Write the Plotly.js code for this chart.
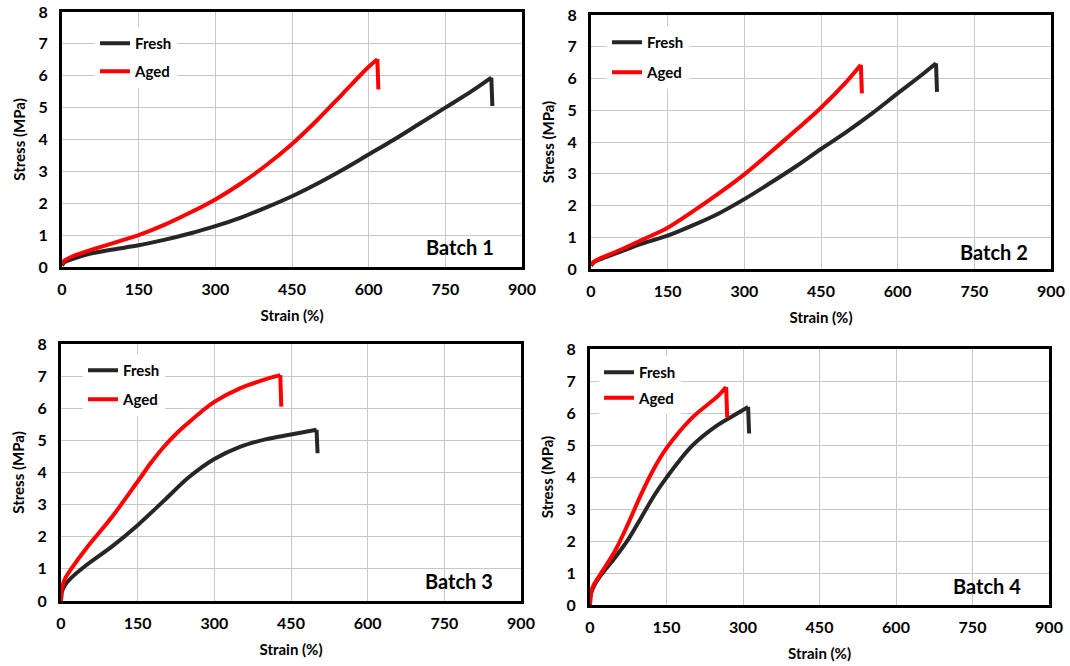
<!DOCTYPE html>
<html>
<head>
<meta charset="utf-8">
<script src="https://cdn.plot.ly/plotly-3.0.1.min.js"></script>
<style>html,body{margin:0;padding:0;background:#fff}#chart{width:1070px;height:666px}</style>
</head>
<body>
<div id="chart"></div>
<script>
// ---- data (strain %, stress MPa); last point of each series = stress after break ----
const seriesNames = ["Fresh", "Aged"];
const batchLabels = ["Batch 1", "Batch 2", "Batch 3", "Batch 4"];
const xTicks = [0, 150, 300, 450, 600, 750, 900];
const yTicks = [0, 1, 2, 3, 4, 5, 6, 7, 8];

const b1FreshX = [0, 5, 20, 50, 100, 150, 200, 250, 300, 350, 400, 450, 500, 550, 600, 650, 700, 750, 800, 840, 842];
const b1FreshY = [0.05, 0.15, 0.25, 0.40, 0.55, 0.68, 0.85, 1.05, 1.28, 1.55, 1.87, 2.22, 2.62, 3.06, 3.53, 4.0, 4.5, 5.0, 5.5, 5.94, 5.05];
const b1AgedX = [0, 5, 20, 50, 100, 150, 200, 250, 300, 350, 400, 450, 500, 550, 600, 617, 619];
const b1AgedY = [0.1, 0.2, 0.33, 0.5, 0.75, 1.0, 1.32, 1.7, 2.12, 2.62, 3.2, 3.86, 4.62, 5.45, 6.28, 6.52, 5.57];

const b2FreshX = [0, 5, 20, 50, 100, 150, 200, 250, 300, 350, 400, 450, 500, 550, 600, 650, 675, 677];
const b2FreshY = [0.1, 0.2, 0.32, 0.5, 0.8, 1.05, 1.38, 1.75, 2.2, 2.7, 3.22, 3.78, 4.32, 4.9, 5.53, 6.15, 6.48, 5.58];
const b2AgedX = [0, 5, 20, 50, 100, 150, 200, 250, 300, 350, 400, 450, 500, 528, 530];
const b2AgedY = [0.12, 0.22, 0.35, 0.55, 0.92, 1.3, 1.82, 2.38, 2.98, 3.66, 4.36, 5.08, 5.9, 6.43, 5.53];

const b3FreshX = [0, 2, 8, 20, 50, 100, 150, 200, 250, 300, 350, 400, 450, 500, 502];
const b3FreshY = [0, 0.3, 0.5, 0.72, 1.12, 1.7, 2.36, 3.1, 3.85, 4.42, 4.8, 5.03, 5.18, 5.33, 4.6];
const b3AgedX = [0, 2, 8, 20, 50, 100, 150, 175, 200, 225, 250, 275, 300, 350, 400, 429, 431];
const b3AgedY = [0, 0.4, 0.7, 1.0, 1.65, 2.62, 3.72, 4.28, 4.78, 5.2, 5.56, 5.9, 6.2, 6.62, 6.9, 7.03, 6.05];

const b4FreshX = [0, 2, 8, 20, 50, 75, 100, 125, 150, 200, 250, 290, 310, 312];
const b4FreshY = [0, 0.35, 0.6, 0.9, 1.5, 2.05, 2.72, 3.4, 3.98, 4.97, 5.62, 6.0, 6.19, 5.36];
const b4AgedX = [0, 2, 8, 20, 50, 75, 100, 125, 150, 200, 250, 267, 269];
const b4AgedY = [0, 0.4, 0.65, 0.95, 1.72, 2.55, 3.45, 4.25, 4.9, 5.85, 6.52, 6.81, 5.86];

const freshColor = "#262626";
const agedColor = "#ff0000";
const FONT = "Lato, 'Open Sans', sans-serif";

const panels = [
  {fx: b1FreshX, fy: b1FreshY, ax: b1AgedX, ay: b1AgedY},
  {fx: b2FreshX, fy: b2FreshY, ax: b2AgedX, ay: b2AgedY},
  {fx: b3FreshX, fy: b3FreshY, ax: b3AgedX, ay: b3AgedY},
  {fx: b4FreshX, fy: b4FreshY, ax: b4AgedX, ay: b4AgedY}
];

const W = 1070, H = 666;
// pixel boxes of each plot area [left, right, top, bottom]
const boxes = [
  [62, 522, 12, 267],
  [591, 1051, 15, 269],
  [61, 521, 344, 601],
  [590, 1049, 349, 605]
];
// legend positions [left px, top px, gap]
const legendPos = [
  [95, 27, 5.5],
  [607, 26, 7.5],
  [83, 354, 6.5],
  [599, 356, 3]
];
const batchPos = [[0.944, 0.078], [0.955, 0.067], [0.944, 0.076], [0.944, 0.074]];

const traces = [];
const layout = {
  width: W, height: H,
  margin: {l: 0, r: 0, t: 0, b: 0},
  paper_bgcolor: "#fff", plot_bgcolor: "#fff",
  font: {family: FONT, color: "#000", size: 15, weight: 700},
  annotations: [],
  showlegend: true
};

function addSeries(xs, ys, name, color, xa, ya, lg, grp) {
  // loading curve up to the peak
  traces.push({
    x: xs.slice(0, -1), y: ys.slice(0, -1), xaxis: xa, yaxis: ya, name: name, legend: lg,
    legendgroup: grp, mode: "lines", type: "scatter",
    line: {color: color, width: 4, shape: "spline", smoothing: 0.9}
  });
  // break: sudden stress drop after the peak
  traces.push({
    x: xs.slice(-2), y: ys.slice(-2), xaxis: xa, yaxis: ya, name: name, legend: lg,
    legendgroup: grp, showlegend: false, mode: "lines", type: "scatter",
    line: {color: color, width: 4, shape: "linear"}
  });
}

panels.forEach((p, i) => {
  const n = i + 1;
  const xa = n === 1 ? "x" : "x" + n;
  const ya = n === 1 ? "y" : "y" + n;
  const lg = n === 1 ? "legend" : "legend" + n;
  addSeries(p.fx, p.fy, seriesNames[0], freshColor, xa, ya, lg, "f" + n);
  addSeries(p.ax, p.ay, seriesNames[1], agedColor, xa, ya, lg, "a" + n);
  const b = boxes[i];
  const common = {
    showline: true, mirror: true, linecolor: "#000", linewidth: 3,
    showgrid: true, gridcolor: "#c8c8c8", gridwidth: 1,
    zeroline: false, ticks: "", fixedrange: true,
    tickfont: {family: FONT, size: 16, color: "#000", weight: 700}
  };
  layout[n === 1 ? "xaxis" : "xaxis" + n] = Object.assign({}, common, {
    domain: [b[0] / W, b[1] / W], anchor: ya,
    range: [0, 900], tickvals: xTicks, ticktext: xTicks.map(String),
    ticklabelstandoff: 6,
    title: {text: "Strain (%)", font: {family: FONT, size: 15, color: "#000", weight: 700}, standoff: 14}
  });
  layout[n === 1 ? "yaxis" : "yaxis" + n] = Object.assign({}, common, {
    domain: [1 - b[3] / H, 1 - b[2] / H], anchor: xa,
    range: [0, 8], tickvals: yTicks, ticktext: yTicks.map(String),
    ticklabelstandoff: 8,
    title: {text: "Stress (MPa)", font: {family: FONT, size: 15, color: "#000", weight: 700}, standoff: 10}
  });
  const L = legendPos[i];
  layout[lg] = {
    x: L[0] / W, y: 1 - L[1] / H, xref: "paper", yref: "paper",
    xanchor: "left", yanchor: "top",
    bgcolor: "#ffffff", borderwidth: 0,
    traceorder: "grouped", tracegroupgap: L[2],
    font: {family: FONT, size: 15, color: "#000", weight: 700}
  };
  layout.annotations.push({
    text: batchLabels[i], xref: xa + " domain", yref: ya + " domain",
    x: batchPos[i][0], y: batchPos[i][1], xanchor: "right", yanchor: "middle",
    showarrow: false, font: {family: FONT, size: 20, color: "#000", weight: 700}
  });
});

Plotly.newPlot("chart", traces, layout, {staticPlot: true, displayModeBar: false});
</script>
</body>
</html>
